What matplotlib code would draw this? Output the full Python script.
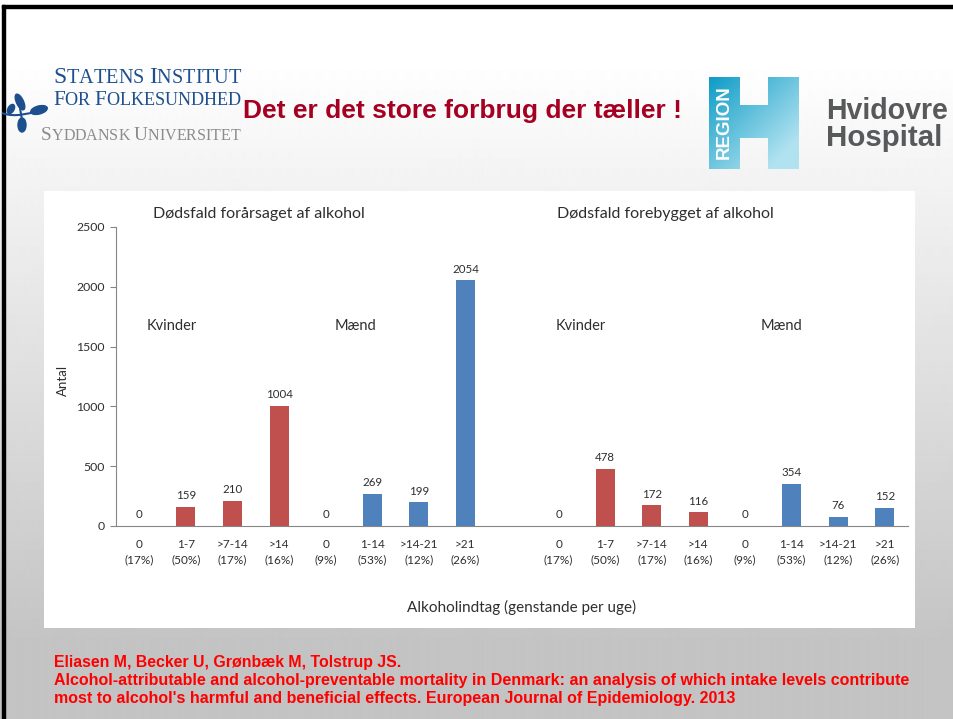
import matplotlib
matplotlib.use("Agg")
import matplotlib.pyplot as plt
import numpy as np
from matplotlib.patches import Rectangle, Ellipse, Polygon
from matplotlib.path import Path
import matplotlib.patches as mpatches

# ---------------- data ----------------
women_labels = ["0\n(17%)", "1-7\n(50%)", ">7-14\n(17%)", ">14\n(16%)"]
men_labels = ["0\n(9%)", "1-14\n(53%)", ">14-21\n(12%)", ">21\n(26%)"]
caused_women = [0, 159, 210, 1004]
caused_men = [0, 269, 199, 2054]
prevented_women = [0, 478, 172, 116]
prevented_men = [0, 354, 76, 152]
y_ticks = [0, 500, 1000, 1500, 2000, 2500]

title_text = "Det er det store forbrug der tæller !"
panel_titles = ["Dødsfald forårsaget af alkohol", "Dødsfald forebygget af alkohol"]
group_names = ["Kvinder", "Mænd"]
xlabel_text = "Alkoholindtag (genstande per uge)"
citation = [
    "Eliasen M, Becker U, Grønbæk M, Tolstrup JS.",
    "Alcohol-attributable and alcohol-preventable mortality in Denmark: an analysis of which intake levels contribute",
    "most to alcohol's harmful and beneficial effects. European Journal of Epidemiology. 2013",
]

RED = "#c0504d"
BLUE = "#4f81bd"
CHART_FONT = "Lato"
TXT = "#2e2e2e"

W, H = 954, 719
fig = plt.figure(figsize=(W / 100, H / 100), dpi=100)
renderer = fig.canvas.get_renderer()

bg = fig.add_axes([0, 0, 1, 1])
bg.set_xlim(0, W)
bg.set_ylim(H, 0)
bg.axis("off")


def fit(t, width):
    w = t.get_window_extent(renderer).width
    t.set_fontsize(t.get_fontsize() * width / w)
    return t


# slide gradient background
ys = np.arange(H)
vals = 255 - (255 - 196) * np.clip((ys - 60) / 580.0, 0, 1)
img = np.repeat(vals[:, None], 2, axis=1)
bg.imshow(img, cmap="gray", vmin=0, vmax=255, extent=(0, W, H, 0),
          aspect="auto", interpolation="bilinear", zorder=0)
bg.add_patch(Rectangle((2, 5), W, 3, color="black", zorder=1))
bg.add_patch(Rectangle((2, 5), 3, H, color="black", zorder=1))

# white chart panel
bg.add_patch(Rectangle((44, 191), 871, 437, fc="white", ec="none", zorder=1))

# ---------------- header: left logo ----------------
NAVY = "#1d4f8e"
for (cx, cy, w, h, a) in [(20, 102, 7, 17, -25), (39, 110, 17, 8, -15),
                          (22, 125, 8, 14, 0), (11, 109, 6, 10, 30)]:
    bg.add_patch(Ellipse((cx, cy), w, h, angle=a, color=NAVY, zorder=2))
stem = Path([(2, 113), (15, 118), (30, 113), (40, 111)],
            [Path.MOVETO, Path.CURVE4, Path.CURVE4, Path.CURVE4])
bg.add_patch(mpatches.PathPatch(stem, fc="none", ec=NAVY, lw=1.5, zorder=2))
bg.plot([20, 22], [108, 120], color=NAVY, lw=1.5, zorder=2)


def smallcaps(x0, y, text, big, small, color, target):
    for attempt in range(2):
        arts = []
        x = x0
        for wi, word in enumerate(text.split(" ")):
            if wi > 0:
                t = bg.text(x, y, " ", fontsize=small, family="Liberation Serif",
                            color=color, va="baseline", ha="left", zorder=3)
                x += t.get_window_extent(renderer).width
                arts.append(t)
            for ci, ch in enumerate(word):
                fs = big if ci == 0 else small
                t = bg.text(x, y, ch, fontsize=fs, family="Liberation Serif",
                            color=color, va="baseline", ha="left", zorder=3)
                x += t.get_window_extent(renderer).width
                arts.append(t)
        total = x - x0
        if attempt == 0:
            s = target / total
            for a in arts:
                a.remove()
            big *= s
            small *= s


smallcaps(53, 83, "STATENS INSTITUT", 13, 11.2, NAVY, 188)
smallcaps(53, 105, "FOR FOLKESUNDHED", 13, 11.2, NAVY, 188)
smallcaps(41, 140, "SYDDANSK UNIVERSITET", 14, 11.5, "#8c8c8c", 199)

# title
t = bg.text(243, 111, title_text, fontsize=15, fontweight="bold",
            family="Liberation Sans", color="#a50021", va="center", ha="left", zorder=3)
fit(t, 440)

# ---------------- header: right logo ----------------
hpoly = [(709, 77), (740, 77), (740, 105), (768, 105), (768, 77), (799, 77),
         (799, 169), (768, 169), (768, 138), (740, 138), (740, 169), (709, 169)]
gx, gy = np.meshgrid(np.linspace(0, 1, 100), np.linspace(0, 1, 100))
gt = np.clip((gx * 0.6 + gy * 0.6), 0, 1)[..., None]
c0 = np.array([0x0e, 0x9c, 0xc6]) / 255
c1 = np.array([0xb0, 0xe2, 0xf0]) / 255
gimg = c0 * (1 - gt) + c1 * gt
im = bg.imshow(gimg, extent=(709, 799, 169, 77), aspect="auto", zorder=2,
               interpolation="bilinear")
hp = Polygon(hpoly, closed=True, transform=bg.transData)
im.set_clip_path(hp)
bg.set_xlim(0, W)
bg.set_ylim(H, 0)
bg.text(724.5, 122, "REGION", rotation=90, fontsize=13.5, fontweight="bold",
        family="Liberation Sans", color="white", ha="center", va="center", zorder=3)
t = bg.text(826, 119, "Hvidovre", fontsize=20, fontweight="bold",
            family="Liberation Sans", color="#58595b", ha="left", va="baseline", zorder=3)
fit(t, 122)
t = bg.text(826, 146, "Hospital", fontsize=20, fontweight="bold",
            family="Liberation Sans", color="#58595b", ha="left", va="baseline", zorder=3)
fit(t, 116)

# citation
for txt, yy, wd in zip(citation, [662, 680, 699], [347, 851, 679]):
    t = bg.text(54, yy, txt, fontsize=10, fontweight="bold", family="Liberation Sans",
                color="#ff0000", ha="left", va="center", zorder=3)
    fit(t, wd)

# ---------------- chart ----------------
ax = fig.add_axes([116 / W, 1 - 526 / H, (908 - 116) / W, (526 - 227) / H])
ax.patch.set_alpha(0)
ax.set_zorder(5)

groups = [
    (caused_women, women_labels, RED),
    (caused_men, men_labels, BLUE),
    (None, None, None),
    (prevented_women, women_labels, RED),
    (prevented_men, men_labels, BLUE),
]
positions, labels = [], []
pos = 0
for vals_, labs, col in groups:
    if vals_ is None:
        pos += 1
        continue
    xs = np.arange(pos, pos + len(vals_))
    ax.bar(xs, vals_, width=0.41, color=col, zorder=3)
    for x, v in zip(xs, vals_):
        ax.annotate(str(v), (x, v), xytext=(0, 4.0), textcoords="offset points",
                    ha="center", va="bottom", fontsize=8.3, family=CHART_FONT,
                    color=TXT)
    positions.extend(xs)
    labels.extend(labs)
    pos += len(vals_)

ax.set_xlim(-0.5, pos - 0.5)
ax.set_ylim(0, 2500)
ax.set_yticks(y_ticks)
ax.set_yticklabels([str(v) for v in y_ticks], fontsize=8.8, family=CHART_FONT,
                   color=TXT)
ax.set_xticks(positions)
ax.set_xticklabels(labels, fontsize=8.5, family=CHART_FONT, color=TXT,
                   linespacing=1.45)
ax.tick_params(axis="x", length=0, pad=9.5)
ax.tick_params(axis="y", length=4, color="#868686", pad=4)
for s in ["top", "right"]:
    ax.spines[s].set_visible(False)
for s in ["left", "bottom"]:
    ax.spines[s].set_color("#868686")
    ax.spines[s].set_linewidth(0.8)

# panel titles and group names (figure pixel positions)
for txt, x in zip(panel_titles, [153, 557]):
    t = bg.text(x, 214, txt, fontsize=11.5, family=CHART_FONT, color=TXT,
                ha="left", va="center", zorder=6)
for txt, x in zip(group_names * 2, [147, 335, 556, 761]):
    bg.text(x, 326, txt, fontsize=10.5, family=CHART_FONT, color=TXT,
            ha="left", va="center", zorder=6)
bg.text(63, 380, "Antal", rotation=90, fontsize=9.5, family=CHART_FONT,
        color=TXT, ha="center", va="center", zorder=6)
bg.text(522, 607, xlabel_text, fontsize=11, family=CHART_FONT, color=TXT,
        ha="center", va="center", zorder=6)

fig.savefig("out.png", dpi=100)
